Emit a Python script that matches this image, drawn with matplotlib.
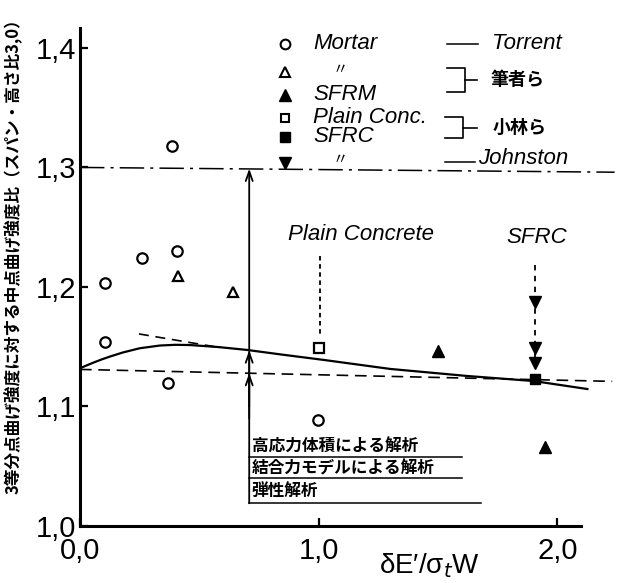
import matplotlib.pyplot as plt

# values
mortar_x = [0.105, 0.105, 0.26, 0.369, 0.386, 0.407, 0.998]
mortar_y = [1.203, 1.154, 1.224, 1.120, 1.318, 1.230, 1.089]
mortar2_x = [0.411, 0.641]
mortar2_y = [1.209, 1.196]
sfrm_x = [1.501, 1.95]
sfrm_y = [1.146, 1.066]
plain_x = [1.002]
plain_y = [1.149]
sfrc_x = [1.908]
sfrc_y = [1.123]
sfrc2_x = [1.908, 1.908, 1.908]
sfrc2_y = [1.187, 1.149, 1.136]

# analysis curves
curve_x = [0.0, 0.05, 0.09, 0.126, 0.18, 0.25, 0.335, 0.40, 0.461, 0.58, 0.70, 0.85,
           1.019, 1.30, 1.623, 1.90, 2.126]
curve_y = [1.132, 1.1362, 1.1393, 1.1418, 1.1452, 1.1487, 1.1510, 1.1516, 1.1514, 1.1497,
           1.1473, 1.1433, 1.139, 1.1314, 1.1255, 1.1213, 1.1146]
elastic_x = [0.0, 2.23]
elastic_y = [1.131, 1.121]
short_x = [0.247, 0.565]
short_y = [1.1607, 1.150]
johnston_x = [0.0, 2.24]
johnston_y = [1.300, 1.296]

xticks = [0.0, 1.0, 2.0]
xtick_labels = ['0,0', '1,0', '2,0']
yticks = [1.0, 1.1, 1.2, 1.3, 1.4]
ytick_labels = ['1,0', '1,1', '1,2', '1,3', '1,4']

num_font = ['Liberation Sans Narrow', 'Liberation Sans', 'DejaVu Sans']
lat_font = ['Liberation Sans', 'DejaVu Sans']
jp_font = ['Noto Sans CJK JP', 'DejaVu Sans']

fig = plt.figure(figsize=(6.18, 5.83), dpi=100)
ax = fig.add_axes([80 / 618, 57 / 583, 537 / 618, 502 / 583])
ax.set_xlim(0, 2.25)
ax.set_ylim(1.0, 1.42)

for s in ['top', 'right']:
    ax.spines[s].set_visible(False)
ax.spines['left'].set_linewidth(2.2)
ax.spines['bottom'].set_linewidth(2.2)
ax.spines['left'].set_bounds(1.0, 1.417)
ax.spines['bottom'].set_bounds(0.0, 2.1)

ax.set_xticks(xticks)
ax.set_xticklabels(xtick_labels, family=num_font, fontsize=21)
ax.set_yticks(yticks)
ax.set_yticklabels(ytick_labels, family=num_font, fontsize=21)
ax.tick_params(direction='in', length=6, width=1.6)
ax.tick_params(axis='x', pad=8)
ax.tick_params(axis='y', pad=3)

# lines
ax.plot(curve_x, curve_y, color='k', lw=1.6)
ax.plot(elastic_x, elastic_y, color='k', lw=1.2, ls=(0, (7, 4)))
ax.plot(short_x, short_y, color='k', lw=1.2, ls=(0, (6, 4)))
ax.plot(johnston_x, johnston_y, color='k', lw=1.1, ls=(0, (16, 4, 2, 4)), clip_on=False)

# measured points
ax.plot(mortar_x, mortar_y, 'o', mfc='white', mec='k', mew=1.6, ms=7.5, ls='none')
ax.plot(mortar2_x, mortar2_y, '^', mfc='white', mec='k', mew=1.6, ms=7, ls='none')
ax.plot(sfrm_x, sfrm_y, '^', color='k', ms=8.5, ls='none')
ax.plot(plain_x, plain_y, 's', mfc='white', mec='k', mew=1.6, ms=6.5, ls='none')
ax.plot(sfrc_x, sfrc_y, 's', color='k', ms=7, ls='none', zorder=4)
ax.plot(sfrc2_x, sfrc2_y, 'v', color='k', ms=8, ls='none', zorder=4)

# vertical arrow and the analysis box
arr = dict(arrowstyle='->,head_length=0.7,head_width=0.25', lw=1.3, color='k', shrinkA=0, shrinkB=0)
ax.annotate('', xy=(0.709, 1.299), xytext=(0.709, 1.019), arrowprops=arr)
ax.annotate('', xy=(0.709, 1.147), xytext=(0.709, 1.10), arrowprops=arr)
ax.annotate('', xy=(0.709, 1.128), xytext=(0.709, 1.09), arrowprops=arr)
ax.plot([0.709, 1.60], [1.0577, 1.0577], color='k', lw=1.1)
ax.plot([0.709, 1.60], [1.040, 1.040], color='k', lw=1.1)
ax.plot([0.709, 1.68], [1.019, 1.019], color='k', lw=1.1)
ax.text(0.72, 1.0665, '高応力体積による解析', family=jp_font, fontsize=12, weight='bold', va='center')
ax.text(0.72, 1.048, '結合力モデルによる解析', family=jp_font, fontsize=12, weight='bold', va='center')
ax.text(0.72, 1.0285, '弾性解析', family=jp_font, fontsize=12, weight='bold', va='center')

# labelled dashed arrows
ax.plot([1.006, 1.006], [1.226, 1.158], color='k', lw=1.3, ls=(0, (2.5, 2)))
ax.text(1.178, 1.2435, 'Plain Concrete', family=lat_font, style='italic', fontsize=16, ha='center', va='center')
ax.plot([1.908, 1.908], [1.218, 1.13], color='k', lw=1.3, ls=(0, (3, 3)))
ax.text(1.912, 1.241, 'SFRC', family=lat_font, style='italic', fontsize=16, ha='center', va='center')

# legend drawn by hand like the original
kw = dict(ls='none', clip_on=False)
ax.plot(0.86, 1.4033, 'o', mfc='white', mec='k', mew=1.5, ms=7, **kw)
ax.plot(0.86, 1.380, '^', mfc='white', mec='k', mew=1.5, ms=6.5, **kw)
ax.plot(0.86, 1.3607, '^', color='k', ms=8, **kw)
ax.plot(0.86, 1.3414, 's', mfc='white', mec='k', mew=1.5, ms=6, **kw)
ax.plot(0.86, 1.3255, 's', color='k', ms=7, **kw)
ax.plot(0.86, 1.3038, 'v', color='k', ms=8, **kw)
tk = dict(family=lat_font, style='italic', fontsize=16, va='center')
ax.text(0.977, 1.4033, 'Mortar', **tk)
ax.text(1.06, 1.3816, '〃', family=jp_font, fontsize=11, va='center')
ax.text(0.977, 1.3607, 'SFRM', **tk)
ax.text(0.977, 1.3414, 'Plain Conc.', **tk)
ax.text(0.977, 1.3255, 'SFRC', **tk)
ax.text(1.06, 1.3065, '〃', family=jp_font, fontsize=11, va='center')

ax.plot([1.539, 1.669], [1.4033, 1.4033], color='k', lw=1.1)
ax.text(1.727, 1.4033, 'Torrent', **tk)
# bracket 筆者ら
ax.plot([1.539, 1.614, 1.614, 1.539], [1.3833, 1.3833, 1.3632, 1.3632], color='k', lw=1.2)
ax.plot([1.614, 1.665], [1.3732, 1.3732], color='k', lw=1.2)
ax.text(1.719, 1.3732, '筆者ら', family=jp_font, fontsize=13, weight='bold', va='center')
# bracket 小林ら
ax.plot([1.530, 1.606, 1.606, 1.530], [1.3423, 1.3423, 1.3247, 1.3247], color='k', lw=1.2)
ax.plot([1.606, 1.665], [1.3331, 1.3331], color='k', lw=1.2)
ax.text(1.727, 1.3331, '小林ら', family=jp_font, fontsize=13, weight='bold', va='center')
ax.plot([1.530, 1.656], [1.3046, 1.3046], color='k', lw=1.1)
ax.text(1.669, 1.3075, 'Johnston', **tk)

# axis labels
ax.text(1.463, 0.9665, 'δE′/σ$_t$W', family=num_font, fontsize=20, ha='center', va='center', clip_on=False)
fig.text(13 / 618, 0.568, '3等分点曲げ強度に対する中点曲げ強度比（スパン・高さ比3,0）',
         family=jp_font, fontsize=12, weight='bold', rotation=90, ha='center', va='center')

fig.savefig('out.png', dpi=100)
